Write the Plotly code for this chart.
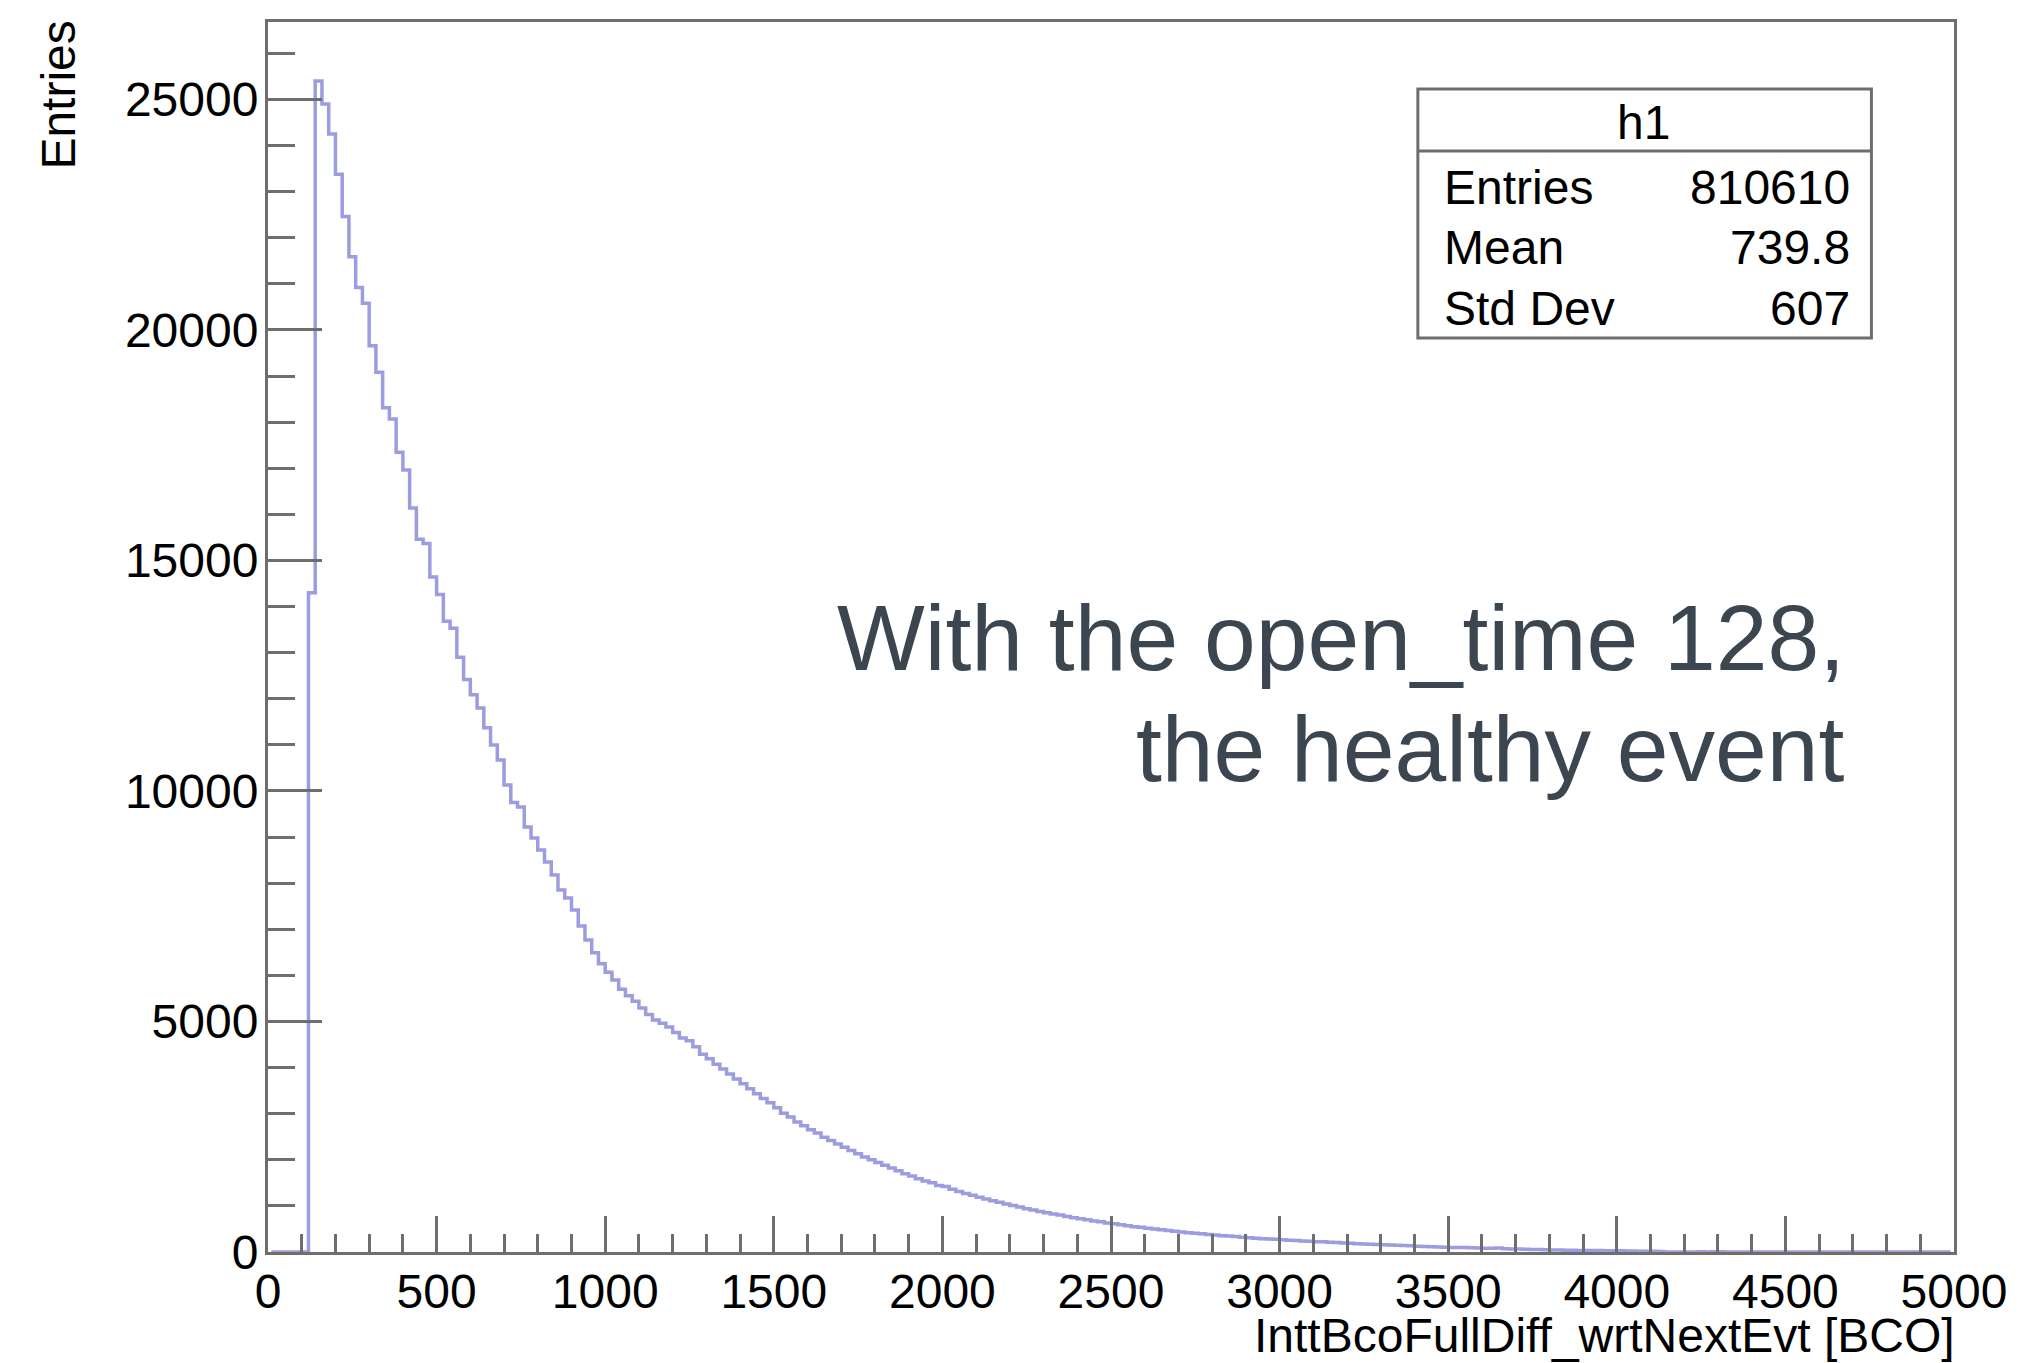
import plotly.graph_objects as go

# ---------------- data ----------------
BIN_WIDTH = 20
X_MIN, X_MAX = 0, 5000
FIRST_NONZERO_BIN_LOW = 120

# entries per 20-BCO bin, starting at the bin [120,140)
counts = [
    14300, 25400, 24900, 24250, 23380, 22460, 21590, 20920, 20580, 19660,
    19080, 18310, 18070, 17350, 16960, 16140, 15460, 15370, 14640, 14260,
    13680, 13530, 12900, 12420, 12090, 11800, 11370, 11000, 10670, 10130,
    9750, 9650, 9220, 8980, 8720, 8460, 8180, 7850, 7680, 7420,
    7070, 6770, 6490, 6250, 6070, 5900, 5700, 5560, 5440, 5290,
    5150, 5030, 4960, 4880, 4760, 4640, 4580, 4450, 4290, 4190,
    4070, 3970, 3860, 3750, 3650, 3540, 3430, 3330, 3240, 3130,
    3010, 2930, 2820, 2740, 2650, 2580, 2490, 2420, 2340, 2270,
    2200, 2130, 2060, 2000, 1940, 1880, 1820, 1760, 1700, 1650,
    1590, 1540, 1500, 1440, 1420, 1360, 1310, 1270, 1230, 1190,
    1150, 1110, 1080, 1040, 1010, 975, 940, 910, 880, 850,
    825, 800, 770, 745, 720, 700, 675, 655, 630, 615,
    590, 570, 550, 535, 515, 500, 480, 465, 450, 435,
    420, 405, 395, 380, 370, 355, 345, 335, 320, 310,
    300, 290, 280, 275, 265, 255, 250, 240, 235, 225,
    220, 210, 205, 195, 190, 180, 175, 170, 160, 155,
    150, 145, 140, 135, 125, 120, 115, 110, 105, 100,
    95, 95, 90, 85, 80, 80, 85, 70, 65, 65,
    60, 55, 55, 50, 45, 45, 40, 40, 35, 35,
    30, 30, 28, 25, 25, 22, 20, 18, 16, 14,
    12, 0, 0, 0, 0, 0, 6, 0, 5, 4,
    0,
]

x_title = "InttBcoFullDiff_wrtNextEvt [BCO]"
y_title = "Entries"
stats_name = "h1"
stats_labels = ["Entries", "Mean", "Std Dev"]
stats_values = ["810610", "739.8", "607"]
note_lines = ["With the open_time 128,", "the healthy event"]

# ---------------- build full histogram ----------------
bin_lows = list(range(X_MIN, X_MAX, BIN_WIDTH))
values = [0] * len(bin_lows)
start = bin_lows.index(FIRST_NONZERO_BIN_LOW)
for i, c in enumerate(counts):
    values[start + i] = c
centers = [lo + BIN_WIDTH / 2 for lo in bin_lows]

W, H = 2019, 1363
L, R, T, B = 268, 56, 22, 111
PW, PH = W - L - R, H - T - B

def px(xp):
    return (xp - L) / PW

def py(yp):
    return (H - B - yp) / PH

FONT = "Liberation Sans, Arial, Helvetica, sans-serif"
AX = "#6e6e6e"
FS = 48

fig = go.Figure()
fig.add_trace(go.Scatter(
    x=centers, y=values, mode="lines",
    line=dict(shape="hvh", color="#9c9ce0", width=3.5),
    showlegend=False, hoverinfo="skip",
))

fig.update_layout(
    width=W, height=H, autosize=False,
    margin=dict(l=L, r=R, t=T, b=B, pad=0),
    paper_bgcolor="white", plot_bgcolor="white",
    font=dict(family=FONT, size=FS, color="black"),
    xaxis=dict(
        range=[X_MIN, X_MAX], tick0=0, dtick=500, ticks="inside",
        ticklen=36, tickwidth=3, tickcolor=AX, tickformat="d",
        showline=True, linecolor=AX, linewidth=3, mirror=True,
        showgrid=False, zeroline=False,
        tickfont=dict(family=FONT, size=FS, color="black"),
        ticklabelstandoff=-5,
        minor=dict(dtick=100, tick0=0, ticks="inside", ticklen=18,
                   tickwidth=3, tickcolor=AX, showgrid=False),
    ),
    yaxis=dict(
        range=[0, 26680], tick0=0, dtick=5000, ticks="inside",
        ticklen=54, tickwidth=3, tickcolor=AX, tickformat="d",
        showline=True, linecolor=AX, linewidth=3, mirror=True,
        showgrid=False, zeroline=False,
        tickfont=dict(family=FONT, size=FS, color="black"),
        ticklabelstandoff=-3,
        minor=dict(dtick=1000, tick0=0, ticks="inside", ticklen=27,
                   tickwidth=3, tickcolor=AX, showgrid=False),
    ),
)

ann = []
# axis titles
ann.append(dict(text=x_title, xref="paper", yref="paper", x=px(1966), y=py(1335),
                xanchor="right", yanchor="middle", showarrow=False,
                font=dict(family=FONT, size=FS, color="black")))
ann.append(dict(text=y_title, xref="paper", yref="paper", x=px(57), y=py(19),
                xanchor="center", yanchor="top", textangle=-90, showarrow=False,
                font=dict(family=FONT, size=FS, color="black")))

# stats box
BX0, BX1, BY0, BY1, BHL = 1424, 1880, 89, 338, 151
shapes = [
    dict(type="rect", xref="paper", yref="paper",
         x0=px(BX0), x1=px(BX1), y0=py(BY1), y1=py(BY0),
         line=dict(color=AX, width=3), fillcolor="white", layer="above"),
    dict(type="line", xref="paper", yref="paper",
         x0=px(BX0), x1=px(BX1), y0=py(BHL), y1=py(BHL),
         line=dict(color=AX, width=3), layer="above"),
]
ann.append(dict(text=stats_name, xref="paper", yref="paper", x=px(1651), y=py(122),
                xanchor="center", yanchor="middle", showarrow=False,
                font=dict(family=FONT, size=FS, color="black")))
row_y = [187, 248, 309]
for lab, val, yy in zip(stats_labels, stats_values, row_y):
    ann.append(dict(text=lab, xref="paper", yref="paper", x=px(1448), y=py(yy),
                    xanchor="left", yanchor="middle", showarrow=False,
                    font=dict(family=FONT, size=FS, color="black")))
    ann.append(dict(text=val, xref="paper", yref="paper", x=px(1860), y=py(yy),
                    xanchor="right", yanchor="middle", showarrow=False,
                    font=dict(family=FONT, size=FS, color="black")))

# note
for line, yy in zip(note_lines, [638, 749]):
    ann.append(dict(text=line, xref="paper", yref="paper", x=px(1855), y=py(yy),
                    xanchor="right", yanchor="middle", showarrow=False,
                    font=dict(family=FONT, size=93, color="#3b4650")))

fig.update_layout(annotations=ann, shapes=shapes)
fig.write_html("out.html")
